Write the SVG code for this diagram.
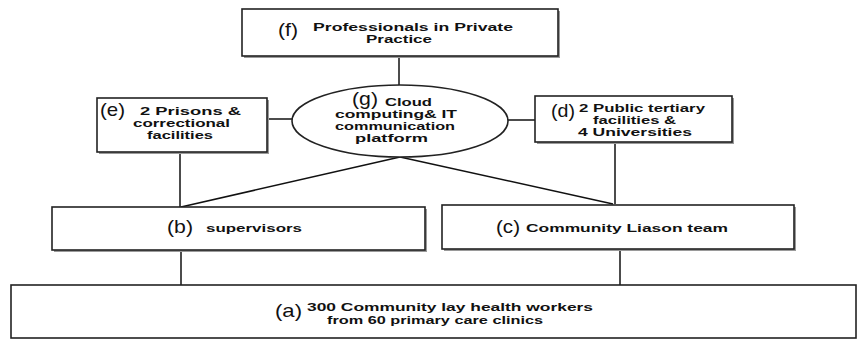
<svg xmlns="http://www.w3.org/2000/svg" width="858" height="340" viewBox="0 0 858 340">
<defs>
<style>
.box{fill:#fff;stroke:#222;stroke-width:1.6}
.sh{fill:#9a9a9a}
.ln{stroke:#111;stroke-width:1.5;fill:none}
.t{font-family:"Liberation Sans",Arial,sans-serif;font-weight:bold;font-size:11.5px;fill:#111}
.l{font-family:"Liberation Sans",Arial,sans-serif;font-size:19px;fill:#111}
</style>
</defs>
<rect width="858" height="340" fill="#fff"/>
<g id="connectors">
<line class="ln" x1="399" y1="56" x2="399" y2="86"/>
<line class="ln" x1="267" y1="119" x2="292" y2="119"/>
<line class="ln" x1="508" y1="120" x2="535" y2="120"/>
<line class="ln" x1="180" y1="152" x2="180" y2="207"/>
<line class="ln" x1="615" y1="142" x2="615" y2="204"/>
<line class="ln" x1="400" y1="157" x2="181" y2="207"/>
<line class="ln" x1="400" y1="157" x2="613" y2="204"/>
<line class="ln" x1="181" y1="251" x2="181" y2="285"/>
<line class="ln" x1="620" y1="250" x2="620" y2="285"/>
</g>
<g id="f">
<rect class="sh" x="244" y="11" width="316" height="47"/>
<rect class="box" x="242" y="9" width="316" height="47"/>
<text class="l" x="278" y="36" textLength="20" lengthAdjust="spacingAndGlyphs">(f)</text>
<text class="t" x="313" y="31" textLength="200" lengthAdjust="spacingAndGlyphs">Professionals in  Private</text>
<text class="t" x="366" y="43" textLength="66" lengthAdjust="spacingAndGlyphs">Practice</text>
</g>
<g id="e">
<rect class="sh" x="99" y="100" width="170" height="54"/>
<rect class="box" x="97" y="98" width="170" height="54"/>
<text class="l" x="100" y="116" textLength="25" lengthAdjust="spacingAndGlyphs">(e)</text>
<text class="t" x="140" y="115" textLength="101" lengthAdjust="spacingAndGlyphs">2 Prisons  &amp;</text>
<text class="t" x="133" y="127" textLength="97" lengthAdjust="spacingAndGlyphs">correctional</text>
<text class="t" x="147" y="139" textLength="66" lengthAdjust="spacingAndGlyphs">facilities</text>
</g>
<g id="g">
<ellipse cx="400" cy="121" rx="108" ry="36" fill="#fff" stroke="#222" stroke-width="1.6"/>
<text class="l" x="352" y="105" textLength="26" lengthAdjust="spacingAndGlyphs">(g)</text>
<text class="t" x="385" y="106" textLength="47" lengthAdjust="spacingAndGlyphs">Cloud</text>
<text class="t" x="335" y="118" textLength="122" lengthAdjust="spacingAndGlyphs">computing&amp; IT</text>
<text class="t" x="335" y="130" textLength="120" lengthAdjust="spacingAndGlyphs">communication</text>
<text class="t" x="355" y="142" textLength="73" lengthAdjust="spacingAndGlyphs">platform</text>
</g>
<g id="d">
<rect class="sh" x="537" y="98" width="197" height="46"/>
<rect class="box" x="535" y="96" width="197" height="46"/>
<text class="l" x="551" y="117" textLength="24" lengthAdjust="spacingAndGlyphs">(d)</text>
<text class="t" x="579" y="112" textLength="126" lengthAdjust="spacingAndGlyphs">2 Public tertiary</text>
<text class="t" x="593" y="124" textLength="83" lengthAdjust="spacingAndGlyphs">facilities &amp;</text>
<text class="t" x="578" y="136" textLength="114" lengthAdjust="spacingAndGlyphs">4 Universities</text>
</g>
<g id="b">
<rect class="sh" x="54" y="209" width="373" height="43"/>
<rect class="box" x="52" y="207" width="373" height="43"/>
<text class="l" x="167" y="233" textLength="26" lengthAdjust="spacingAndGlyphs">(b)</text>
<text class="t" x="206" y="232" textLength="96" lengthAdjust="spacingAndGlyphs">supervisors</text>
</g>
<g id="c">
<rect class="sh" x="444" y="207" width="352" height="44"/>
<rect class="box" x="442" y="205" width="352" height="44"/>
<text class="l" x="496" y="233" textLength="24" lengthAdjust="spacingAndGlyphs">(c)</text>
<text class="t" x="526" y="232" textLength="202" lengthAdjust="spacingAndGlyphs">Community Liason team</text>
</g>
<g id="a">
<rect class="box" x="11" y="285" width="845" height="53"/>
<text class="l" x="275" y="317" textLength="27" lengthAdjust="spacingAndGlyphs">(a)</text>
<text class="t" x="307" y="311" textLength="286" lengthAdjust="spacingAndGlyphs">300 Community lay health workers</text>
<text class="t" x="327" y="324" textLength="216" lengthAdjust="spacingAndGlyphs">from 60 primary care clinics</text>
</g>
</svg>
